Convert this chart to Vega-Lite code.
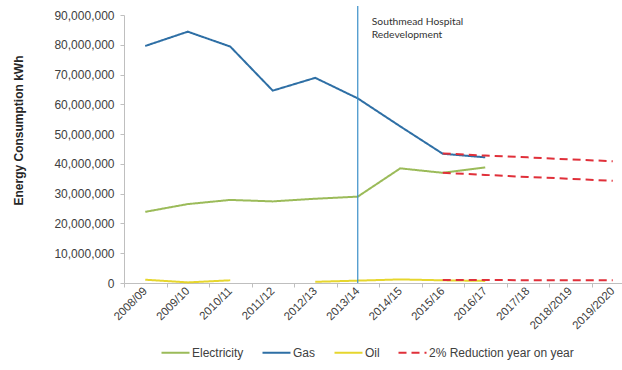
{
  "$schema": "https://vega.github.io/schema/vega-lite/v6.json",
  "autosize": {"type": "none"},
  "padding": {"left": 124, "top": 15, "right": 0, "bottom": 87},
  "width": 498,
  "height": 268,
  "background": "white",
  "config": {
    "view": {"stroke": null},
    "font": "Liberation Sans"
  },
  "datasets": {
    "energy": [
      {"year": "2008/09", "series": "Electricity", "legend": "Electricity", "kwh": 23900000},
      {"year": "2009/10", "series": "Electricity", "legend": "Electricity", "kwh": 26500000},
      {"year": "2010/11", "series": "Electricity", "legend": "Electricity", "kwh": 27900000},
      {"year": "2011/12", "series": "Electricity", "legend": "Electricity", "kwh": 27400000},
      {"year": "2012/13", "series": "Electricity", "legend": "Electricity", "kwh": 28300000},
      {"year": "2013/14", "series": "Electricity", "legend": "Electricity", "kwh": 29000000},
      {"year": "2014/15", "series": "Electricity", "legend": "Electricity", "kwh": 38500000},
      {"year": "2015/16", "series": "Electricity", "legend": "Electricity", "kwh": 37000000},
      {"year": "2016/17", "series": "Electricity", "legend": "Electricity", "kwh": 38800000},
      {"year": "2008/09", "series": "Gas", "legend": "Gas", "kwh": 79600000},
      {"year": "2009/10", "series": "Gas", "legend": "Gas", "kwh": 84400000},
      {"year": "2010/11", "series": "Gas", "legend": "Gas", "kwh": 79400000},
      {"year": "2011/12", "series": "Gas", "legend": "Gas", "kwh": 64600000},
      {"year": "2012/13", "series": "Gas", "legend": "Gas", "kwh": 68900000},
      {"year": "2013/14", "series": "Gas", "legend": "Gas", "kwh": 62000000},
      {"year": "2014/15", "series": "Gas", "legend": "Gas", "kwh": 52600000},
      {"year": "2015/16", "series": "Gas", "legend": "Gas", "kwh": 43400000},
      {"year": "2016/17", "series": "Gas", "legend": "Gas", "kwh": 42200000},
      {"year": "2008/09", "series": "Oil", "legend": "Oil", "kwh": 1100000},
      {"year": "2009/10", "series": "Oil", "legend": "Oil", "kwh": 200000},
      {"year": "2010/11", "series": "Oil", "legend": "Oil", "kwh": 900000},
      {"year": "2011/12", "series": "Oil", "legend": "Oil", "kwh": null},
      {"year": "2012/13", "series": "Oil", "legend": "Oil", "kwh": 400000},
      {"year": "2013/14", "series": "Oil", "legend": "Oil", "kwh": 800000},
      {"year": "2014/15", "series": "Oil", "legend": "Oil", "kwh": 1200000},
      {"year": "2015/16", "series": "Oil", "legend": "Oil", "kwh": 900000},
      {"year": "2016/17", "series": "Oil", "legend": "Oil", "kwh": 700000},
      {"year": "2015/16", "series": "Gas target", "legend": "2% Reduction year on year", "kwh": 43500000},
      {"year": "2016/17", "series": "Gas target", "legend": "2% Reduction year on year", "kwh": 42800000},
      {"year": "2017/18", "series": "Gas target", "legend": "2% Reduction year on year", "kwh": 42200000},
      {"year": "2018/2019", "series": "Gas target", "legend": "2% Reduction year on year", "kwh": 41500000},
      {"year": "2019/2020", "series": "Gas target", "legend": "2% Reduction year on year", "kwh": 40900000},
      {"year": "2015/16", "series": "Electricity target", "legend": "2% Reduction year on year", "kwh": 37000000},
      {"year": "2016/17", "series": "Electricity target", "legend": "2% Reduction year on year", "kwh": 36300000},
      {"year": "2017/18", "series": "Electricity target", "legend": "2% Reduction year on year", "kwh": 35600000},
      {"year": "2018/2019", "series": "Electricity target", "legend": "2% Reduction year on year", "kwh": 35000000},
      {"year": "2019/2020", "series": "Electricity target", "legend": "2% Reduction year on year", "kwh": 34300000},
      {"year": "2015/16", "series": "Oil target", "legend": "2% Reduction year on year", "kwh": 1000000},
      {"year": "2016/17", "series": "Oil target", "legend": "2% Reduction year on year", "kwh": 1000000},
      {"year": "2017/18", "series": "Oil target", "legend": "2% Reduction year on year", "kwh": 950000},
      {"year": "2018/2019", "series": "Oil target", "legend": "2% Reduction year on year", "kwh": 950000},
      {"year": "2019/2020", "series": "Oil target", "legend": "2% Reduction year on year", "kwh": 900000}
    ],
    "event": [
      {"year": "2013/14", "kwh": 0, "top": 93000000}
    ],
    "note": [
      {"year": "2013/14", "kwh": 90000000, "label": ["Southmead Hospital", "Redevelopment"]}
    ]
  },
  "encoding": {
    "x": {
      "field": "year",
      "type": "nominal",
      "scale": {
        "type": "band",
        "domain": ["2008/09", "2009/10", "2010/11", "2011/12", "2012/13", "2013/14", "2014/15", "2015/16", "2016/17", "2017/18", "2018/2019", "2019/2020"],
        "range": [0, 510],
        "paddingInner": 0,
        "paddingOuter": 0
      },
      "axis": {
        "title": null,
        "tickBand": "extent",
        "tickSize": 4,
        "tickColor": "#BFBFBF",
        "domainColor": "#BFBFBF",
        "labelAngle": -45,
        "labelAlign": "right",
        "labelBaseline": "middle",
        "labelFontSize": 11.5,
        "labelColor": "#404040",
        "labelPadding": 2
      }
    },
    "y": {
      "field": "kwh",
      "type": "quantitative",
      "scale": {"domain": [0, 90000000], "nice": false},
      "axis": {
        "title": "Energy Consumption kWh",
        "titleFontSize": 12,
        "titleFontWeight": "bold",
        "titleColor": "#262626",
        "titleAngle": -90,
        "titleX": -106,
        "titleY": 115,
        "titleAlign": "center",
        "titleBaseline": "middle",
        "values": [0, 10000000, 20000000, 30000000, 40000000, 50000000, 60000000, 70000000, 80000000, 90000000],
        "format": ",.0f",
        "grid": false,
        "domainColor": "#BFBFBF",
        "tickColor": "#BFBFBF",
        "tickSize": 4,
        "labelFontSize": 12,
        "labelColor": "#404040",
        "labelPadding": 6
      }
    }
  },
  "layer": [
    {
      "data": {"name": "energy"},
      "mark": {"type": "line", "strokeWidth": 2},
      "encoding": {
        "detail": {"field": "series", "type": "nominal"},
        "color": {
          "field": "legend",
          "type": "nominal",
          "scale": {
            "domain": ["Electricity", "Gas", "Oil", "2% Reduction year on year"],
            "range": ["#9BBB59", "#2E6FA5", "#E6D62E", "#E0303A"]
          },
          "legend": {
            "title": null,
            "orient": "none",
            "direction": "horizontal",
            "legendX": 36,
            "legendY": 322,
            "symbolType": "stroke",
            "symbolSize": 784,
            "symbolStrokeWidth": 2.2,
            "labelFontSize": 12,
            "labelColor": "#404040",
            "labelOffset": 1,
            "columnPadding": 14
          }
        },
        "strokeDash": {
          "field": "legend",
          "type": "nominal",
          "scale": {
            "domain": ["Electricity", "Gas", "Oil", "2% Reduction year on year"],
            "range": [[1, 0], [1, 0], [1, 0], [8, 5]]
          },
          "legend": null
        }
      }
    },
    {
      "data": {"name": "event"},
      "mark": {"type": "rule", "color": "#3A8FC8", "strokeWidth": 1.2, "clip": false},
      "encoding": {
        "y2": {"field": "top"}
      }
    },
    {
      "data": {"name": "note"},
      "mark": {"type": "text", "align": "left", "baseline": "top", "dx": 14, "dy": 2, "font": "Lato", "fontSize": 10.3, "lineHeight": 12.5, "color": "#333333"},
      "encoding": {
        "text": {"field": "label"}
      }
    }
  ]
}
